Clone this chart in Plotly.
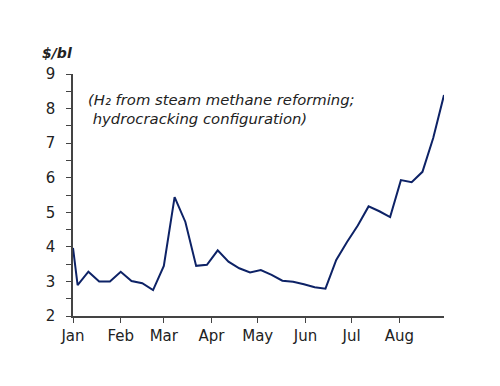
import plotly.graph_objects as go

dates = ["2022-01-01", "2022-01-04", "2022-01-11", "2022-01-18", "2022-01-25",
         "2022-02-01", "2022-02-08", "2022-02-15", "2022-02-22",
         "2022-03-01", "2022-03-08", "2022-03-15", "2022-03-22", "2022-03-29",
         "2022-04-05", "2022-04-12", "2022-04-19", "2022-04-26",
         "2022-05-03", "2022-05-10", "2022-05-17", "2022-05-24", "2022-05-31",
         "2022-06-07", "2022-06-14", "2022-06-21", "2022-06-28",
         "2022-07-05", "2022-07-12", "2022-07-19", "2022-07-26",
         "2022-08-02", "2022-08-09", "2022-08-16", "2022-08-23", "2022-08-30"]
values = [3.97, 2.89, 3.28, 3.00, 3.00,
          3.28, 3.01, 2.95, 2.75,
          3.45, 5.44, 4.72, 3.45, 3.48,
          3.90, 3.57, 3.38, 3.26,
          3.33, 3.19, 3.02, 2.99, 2.92,
          2.83, 2.79, 3.62, 4.14,
          4.62, 5.17, 5.03, 4.86,
          5.93, 5.87, 6.17, 7.15, 8.39]
month_ticks = ["2022-01-01", "2022-02-01", "2022-03-01", "2022-04-01",
               "2022-05-01", "2022-06-01", "2022-07-01", "2022-08-01"]
month_labels = ["Jan", "Feb", "Mar", "Apr", "May", "Jun", "Jul", "Aug"]
y_ticks = [2, 3, 4, 5, 6, 7, 8, 9]

FONT = "DejaVu Sans"
TXT = "#222222"
AX = "#444444"

fig = go.Figure()
fig.add_trace(go.Scatter(x=dates, y=values, mode="lines",
                         line=dict(color="#0d2266", width=2),
                         hoverinfo="skip", showlegend=False, cliponaxis=False))

fig.update_layout(
    width=500, height=386,
    margin=dict(l=65, r=64, t=66, b=78),
    paper_bgcolor="white", plot_bgcolor="white",
    font=dict(family=FONT, size=15, color=TXT),
    xaxis=dict(type="date", range=["2022-01-01", "2022-08-30"], automargin=False,
               tickmode="array", tickvals=month_ticks, ticktext=month_labels,
               showgrid=False, zeroline=False,
               showline=True, linecolor=AX, linewidth=1.5,
               ticks="outside", ticklen=5, tickcolor=AX, tickwidth=1,
               ticklabelstandoff=0,
               tickfont=dict(family=FONT, size=15, color=TXT)),
    yaxis=dict(range=[2, 9], tickmode="array", tickvals=y_ticks, automargin=False,
               showgrid=False, zeroline=False,
               showline=True, linecolor=AX, linewidth=1.5,
               ticks="outside", ticklen=5, tickcolor=AX, tickwidth=1,
               ticklabelstandoff=8,
               minor=dict(dtick=0.5, ticks="outside", ticklen=5, tickcolor=AX, showgrid=False),
               tickfont=dict(family=FONT, size=15, color=TXT)),
    annotations=[
        dict(xref="paper", yref="paper", x=-0.089, y=1.045, xanchor="left", yanchor="bottom",
             text="<b><i>$/bl</i></b>", showarrow=False,
             font=dict(family=FONT, size=14, color=TXT)),
        dict(xref="paper", yref="paper", x=0.035, y=0.94, xanchor="left", yanchor="top",
             align="left",
             text="<i>(H₂ from steam methane reforming;<br> hydrocracking configuration)</i>",
             showarrow=False, font=dict(family=FONT, size=14.8, color=TXT)),
    ],
)

fig.write_html("out.html")
